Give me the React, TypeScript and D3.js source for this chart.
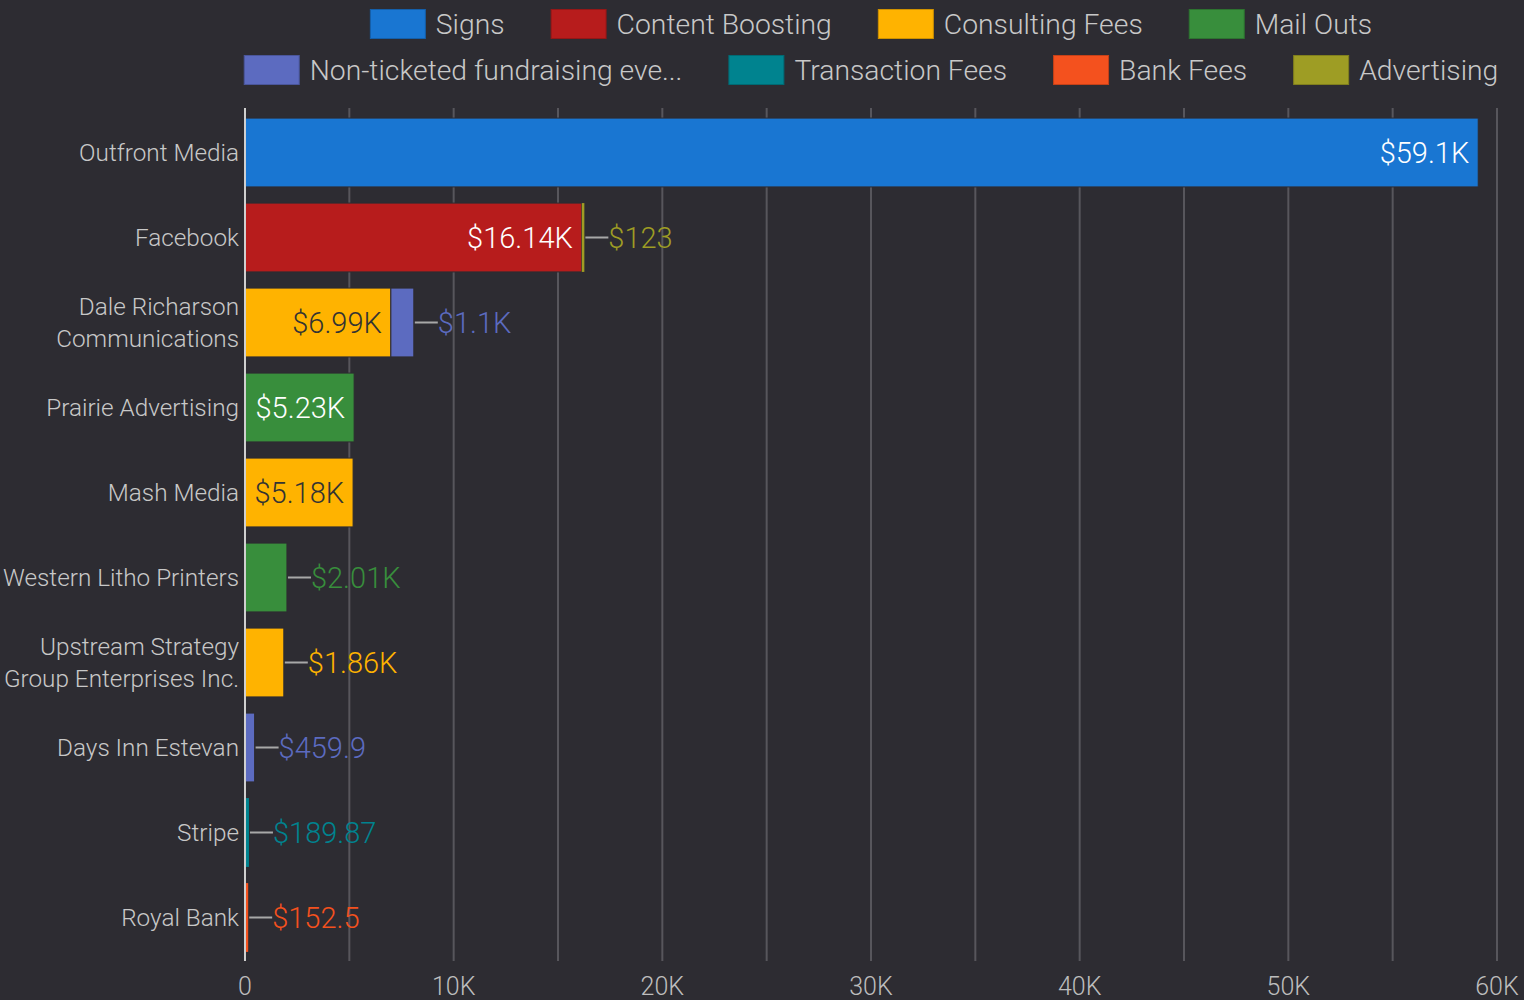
import React from "react";
import * as d3 from "d3";

const categories = [
  "Outfront Media",
  "Facebook",
  "Dale Richarson Communications",
  "Prairie Advertising",
  "Mash Media",
  "Western Litho Printers",
  "Upstream Strategy Group Enterprises Inc.",
  "Days Inn Estevan",
  "Stripe",
  "Royal Bank",
];
const categoryLines = [
  ["Outfront Media"],
  ["Facebook"],
  ["Dale Richarson", "Communications"],
  ["Prairie Advertising"],
  ["Mash Media"],
  ["Western Litho Printers"],
  ["Upstream Strategy", "Group Enterprises Inc."],
  ["Days Inn Estevan"],
  ["Stripe"],
  ["Royal Bank"],
];
const seriesNames = [
  "Signs",
  "Content Boosting",
  "Consulting Fees",
  "Mail Outs",
  "Non-ticketed fundraising events",
  "Transaction Fees",
  "Bank Fees",
  "Advertising",
];
const legendLabels = [
  "Signs",
  "Content Boosting",
  "Consulting Fees",
  "Mail Outs",
  "Non-ticketed fundraising eve...",
  "Transaction Fees",
  "Bank Fees",
  "Advertising",
];
const seriesColors = ["#1976d2", "#b71c1c", "#ffb300", "#388e3c", "#5c6bc0", "#00838f", "#f4511e", "#9e9d24"];
const labelInsideColors = ["#ffffff", "#ffffff", "#333333", "#ffffff", "#ffffff", "#ffffff", "#ffffff", "#333333"];

const signs = [59100, 0, 0, 0, 0, 0, 0, 0, 0, 0];
const contentBoosting = [0, 16140, 0, 0, 0, 0, 0, 0, 0, 0];
const consultingFees = [0, 0, 6990, 0, 5180, 0, 1860, 0, 0, 0];
const mailOuts = [0, 0, 0, 5230, 0, 2010, 0, 0, 0, 0];
const nonTicketed = [0, 0, 1100, 0, 0, 0, 0, 459.9, 0, 0];
const transactionFees = [0, 0, 0, 0, 0, 0, 0, 0, 189.87, 0];
const bankFees = [0, 0, 0, 0, 0, 0, 0, 0, 0, 152.5];
const advertising = [0, 123, 0, 0, 0, 0, 0, 0, 0, 0];
const seriesValues = [signs, contentBoosting, consultingFees, mailOuts, nonTicketed, transactionFees, bankFees, advertising];

const xTicks = [0, 10000, 20000, 30000, 40000, 50000, 60000];
const gridTicks = d3.range(0, 60001, 5000);

const W = 1524;
const H = 1000;
const BG = "#2d2c32";
const FONT = "Roboto, 'Noto Sans', sans-serif";
const WEIGHT = 300;

function fmt(v: number) {
  if (v >= 1000) {
    return "$" + String(+(v / 1000).toFixed(2)) + "K";
  }
  return "$" + String(+v.toFixed(2));
}

let ctx: CanvasRenderingContext2D | null = null;
function measure(text: string, size: number) {
  if (!ctx) ctx = document.createElement("canvas").getContext("2d");
  if (!ctx) return text.length * size * 0.5;
  ctx.font = `${WEIGHT} ${size}px Roboto`;
  return ctx.measureText(text).width;
}

export default function App() {
  React.useEffect(() => {
    document.body.style.margin = "0";
    document.body.style.background = BG;
  }, []);

  const x = d3.scaleLinear().domain([0, 60000]).range([245, 1497]);
  const y = d3.scaleBand<string>().domain(categories).range([110, 960]).paddingInner(0.19).paddingOuter(0.095);

  const rows = categories.map((c, i) => {
    const obj: Record<string, number | string> = { cat: c };
    seriesNames.forEach((s, j) => (obj[s] = seriesValues[j][i]));
    return obj;
  });
  const stacked = d3.stack<any>().keys(seriesNames)(rows);

  const valueSize = 29;
  const catSize = 24.3;
  const tickSize = 25;
  const legendSize = 28.3;

  // legend layout
  const swW = 56, swH = 30, swGap = 10, itemGap = 46;
  const legendRows = [legendLabels.slice(0, 4), legendLabels.slice(4)];
  const legendCenter = (245 + 1497) / 2;
  const legendItems: { label: string; color: string; x: number; y: number }[] = [];
  legendRows.forEach((row, r) => {
    const widths = row.map((l) => swW + swGap + measure(l, legendSize));
    const total = d3.sum(widths) + itemGap * (row.length - 1);
    let cx = legendCenter - total / 2;
    row.forEach((l, k) => {
      const idx = r * 4 + k;
      legendItems.push({ label: l, color: seriesColors[idx], x: cx, y: 24 + r * 46 });
      cx += widths[k] + itemGap;
    });
  });

  const segs: any[] = [];
  const labels: any[] = [];
  categories.forEach((c, i) => {
    const nonZero = stacked.map((s, j) => ({ j, d: s[i] })).filter((o) => o.d[1] - o.d[0] > 0);
    nonZero.forEach((o, k) => {
      const x0 = x(o.d[0]);
      const x1 = x(o.d[1]);
      const yy = y(c)!;
      const h = y.bandwidth();
      const v = o.d[1] - o.d[0];
      segs.push({ key: `${i}-${o.j}`, x: x0, y: yy, w: Math.max(x1 - x0, 1.5), h, color: seriesColors[o.j] });
      const txt = fmt(v);
      const tw = measure(txt, valueSize);
      const isLast = k === nonZero.length - 1;
      if (x1 - x0 > tw + 14) {
        labels.push({ key: `l${i}-${o.j}`, txt, x: x1 - 9, y: yy + h / 2, anchor: "end", color: labelInsideColors[o.j], line: null });
      } else if (isLast) {
        const lx = Math.max(x1, x0 + 1.5);
        labels.push({ key: `l${i}-${o.j}`, txt, x: lx + 24, y: yy + h / 2, anchor: "start", color: seriesColors[o.j], line: [lx + 1, lx + 24] });
      }
    });
  });

  return (
    <svg width={W} height={H} style={{ display: "block", background: BG, fontFamily: FONT, fontWeight: WEIGHT }}>
      <rect x={0} y={0} width={W} height={H} fill={BG} />
      {/* legend */}
      {legendItems.map((it) => (
        <g key={it.label}>
          <rect x={it.x + 0.5} y={it.y - swH / 2 + 0.5} width={swW - 1} height={swH - 1} fill={it.color} stroke={d3.color(it.color)!.darker(0.6).toString()} strokeWidth={1} />
          <text x={it.x + swW + swGap} y={it.y} dy="0.35em" fontSize={legendSize} fill="#c8c8c8">
            {it.label}
          </text>
        </g>
      ))}
      {/* grid */}
      {gridTicks.map((t) => (
        <line key={t} x1={x(t)} x2={x(t)} y1={108} y2={961} stroke={t === 0 ? "#cfcfcf" : "#57565c"} strokeWidth={2} />
      ))}
      {/* x tick labels */}
      {xTicks.map((t) => (
        <text key={t} x={x(t)} y={986} dy="0.35em" textAnchor="middle" fontSize={tickSize} fill="#bdbdbd">
          {t === 0 ? "0" : `${t / 1000}K`}
        </text>
      ))}
      {/* category labels */}
      {categories.map((c, i) => {
        const lines = categoryLines[i];
        const cy = y(c)! + y.bandwidth() / 2;
        return (
          <text key={c} x={239} y={cy} textAnchor="end" fontSize={catSize} fill="#c8c8c8">
            {lines.map((l, k) => (
              <tspan key={k} x={239} y={cy + (k - (lines.length - 1) / 2) * 32} dy="0.35em">
                {l}
              </tspan>
            ))}
          </text>
        );
      })}
      {/* bars */}
      {segs.map((s) => (
        <rect key={s.key} x={s.x} y={s.y} width={s.w} height={s.h} fill={s.color} stroke={BG} strokeWidth={s.w > 4 ? 1 : 0} />
      ))}
      {/* axis line over bars */}
      <line x1={x(0)} x2={x(0)} y1={108} y2={961} stroke="#cfcfcf" strokeWidth={2} />
      {/* value labels */}
      {labels.map((l) => (
        <g key={l.key}>
          {l.line && <line x1={l.line[0]} x2={l.line[1]} y1={l.y} y2={l.y} stroke="#a8a8a8" strokeWidth={2} />}
          <text x={l.x} y={l.y} dy="0.35em" textAnchor={l.anchor} fontSize={valueSize} fill={l.color}>
            {l.txt}
          </text>
        </g>
      ))}
    </svg>
  );
}
